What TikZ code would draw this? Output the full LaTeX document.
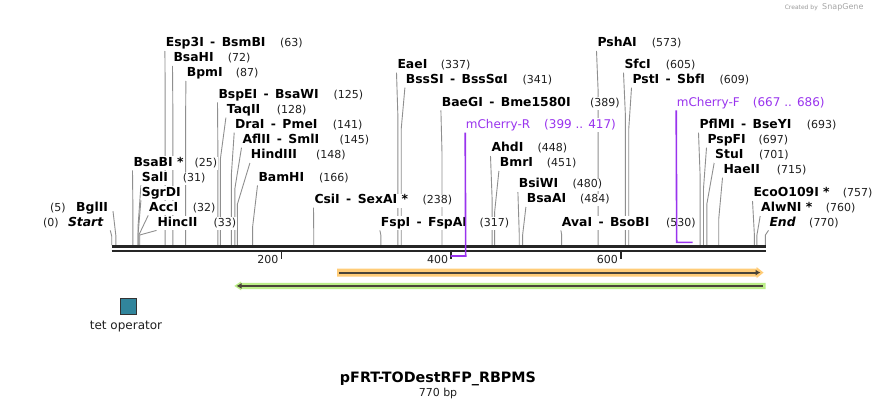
\documentclass[tikz,border=0pt]{standalone}
\usepackage{fontspec}
\setmainfont{DejaVu Sans}
\usetikzlibrary{arrows.meta}
\pgfdeclarelayer{bg}
\pgfsetlayers{bg,main}
\definecolor{sitegray}{HTML}{8F8F8F}
\definecolor{barcol}{HTML}{262626}
\definecolor{primercol}{HTML}{9933EE}
\definecolor{orangeband}{HTML}{FFCC77}
\definecolor{greenband}{HTML}{BBEE88}
\definecolor{featline}{HTML}{4A4438}
\definecolor{tetcol}{HTML}{31859C}
\tikzset{
  enz/.style={anchor=base west, inner xsep=0.8pt, inner ysep=1pt, fill=white,
    text height=9pt, text depth=3pt, font=\fontsize{12.4}{13}\selectfont\bfseries},
  num/.style={anchor=base west, inner xsep=0.8pt, inner ysep=1pt, fill=white,
    text height=8pt, text depth=2.5pt, font=\fontsize{11}{12}\selectfont, text=black!88},
  prim/.style={anchor=base west, inner xsep=0.5pt, inner ysep=1pt, fill=white,
    text height=9pt, text depth=3pt, font=\fontsize{12}{13}\selectfont, text=primercol},
  siteline/.style={draw=sitegray, line width=0.9pt},
  primline/.style={draw=primercol, line width=1.6pt},
  barline/.style={draw=barcol},
  tickmark/.style={draw=barcol, line width=1.8pt},
  ticklabel/.style={anchor=base east, inner sep=0pt, font=\fontsize{11}{12}\selectfont, text=black!88},
}
% id, pos, label x, label y, name, number x, number
\newcommand{\rsite}[7]{%
  \node[enz] (#1) at (#3-0.8,#4+4.5) {#5};
  \node[num] (#1n) at (#6-0.8,#4+4.5) {#7};
  \coordinate (#1s) at ({111.7+0.849*#2},245);
  \coordinate (#1k) at ({111.7+0.849*#2},{min(235,#4+50)});
  \begin{pgfonlayer}{bg}
    \draw[siteline] (#1.south west) -- (#1k) -- (#1s);
  \end{pgfonlayer}
}
\newcommand{\rsitenonum}[5]{%
  \node[enz] (#1) at (#3-0.8,#4+4.5) {#5};
  \coordinate (#1s) at ({111.7+0.849*#2},245);
  \coordinate (#1k) at ({111.7+0.849*#2},{min(235,#4+50)});
  \begin{pgfonlayer}{bg}
    \draw[siteline] (#1.south west) -- (#1k) -- (#1s);
  \end{pgfonlayer}
}
\begin{document}
\begin{tikzpicture}[x=1pt,y=-1pt]
\useasboundingbox (0,0) rectangle (878,409);
\begin{pgfonlayer}{bg}
\fill[white] (0,0) rectangle (878,409);
\end{pgfonlayer}

% watermark
\node[anchor=base east, inner sep=0pt, font=\fontsize{6}{7}\selectfont, text=black!40] (wm1) at (818,10) {Created by};
\node[anchor=base west, inner sep=0pt, font=\fontsize{8}{9}\selectfont, text=black!35] (wm2) at (822,10) {SnapGene};

% sequence bar
\draw[barline, line width=3pt] (111.7,246.5) coordinate (b0) -- (765.7,246.5) coordinate (b1);
\draw[barline, line width=2.5pt] (111.7,251.2) coordinate (c0) -- (765.7,251.2) coordinate (c1);

% ticks
\draw[tickmark] (281.5,252) -- (281.5,259);
\node[ticklabel] (t200) at (278.5,263.5) {200};
\draw[tickmark] (451.3,252) -- (451.3,259);
\node[ticklabel] (t400) at (448.3,263.5) {400};
\draw[tickmark] (621.1,252) -- (621.1,259);
\node[ticklabel] (t600) at (618.1,263.5) {600};

% left end labels
\node[enz, font=\fontsize{12.4}{13}\selectfont\bfseries\itshape] (start) at (67,226.2) {Start};
\node[num] (startn) at (42,226.2) {(0)};
\coordinate (starts) at (111.7,245);
\coordinate (startk) at (111.7,236);
\node[enz] (bglii) at (75.2,211.2) {BglII};
\node[num] (bgliin) at (49.2,211.2) {(5)};
\coordinate (bgliis) at (115.9,245);
\coordinate (bgliik) at (115.9,236);
\begin{pgfonlayer}{bg}
\draw[siteline] ([xshift=6pt]start.south east) -- (startk) -- (starts);
\draw[siteline] ([xshift=4pt,yshift=-3pt]bglii.east) -- (bgliik) -- (bgliis);
\end{pgfonlayer}

\rsite{bsabi}{25}{133.3}{161.7}{BsaBI *}{194.3}{(25)}
\rsite{sali}{31}{141.7}{176.7}{SalI}{182.7}{(31)}
\rsitenonum{sgrdi}{31}{141.7}{191.7}{SgrDI}
\rsite{acci}{32}{149}{206.7}{AccI}{192.7}{(32)}
\rsite{hincii}{33}{157.3}{221.7}{HincII}{213.3}{(33)}
\rsite{esp}{63}{165.7}{42.3}{Esp3I\ \,-\ \,BsmBI}{280}{(63)}
\rsite{bsahi}{72}{173.3}{57.3}{BsaHI}{227.7}{(72)}
\rsite{bpmi}{87}{186.7}{72.3}{BpmI}{235.7}{(87)}
\rsite{bspei}{125}{218.3}{93.7}{BspEI\ \,-\ \,BsaWI}{333.3}{(125)}
\rsite{taqii}{128}{226.7}{109}{TaqII}{276.7}{(128)}
\rsite{drai}{141}{235}{124}{DraI\ \,-\ \,PmeI}{332.7}{(141)}
\rsite{aflii}{145}{242.3}{139}{AflII\ \,-\ \,SmlI}{339.3}{(145)}
\rsite{hindiii}{148}{250.7}{154.3}{HindIII}{316}{(148)}
\rsite{bamhi}{166}{258.3}{176.7}{BamHI}{319}{(166)}
\rsite{csii}{238}{314.3}{199}{CsiI\ \,-\ \,SexAI *}{422.3}{(238)}
\rsite{fspi}{317}{380.7}{221.7}{FspI\ \,-\ \,FspAI}{479.3}{(317)}
\rsite{eaei}{337}{397.3}{64}{EaeI}{440.7}{(337)}
\rsite{bsssi}{341}{405.7}{79}{BssSI\ \,-\ \,BssSαI}{522.3}{(341)}
\rsite{baegi}{389}{441.7}{101.7}{BaeGI\ \,-\ \,Bme1580I}{590}{(389)}
\rsite{ahdi}{448}{491.3}{147.3}{AhdI}{537.3}{(448)}
\rsite{bmri}{451}{499.7}{162.3}{BmrI}{546.7}{(451)}
\rsite{bsiwi}{480}{518.7}{183.3}{BsiWI}{572.5}{(480)}
\rsite{bsaai}{484}{526.7}{198.3}{BsaAI}{580}{(484)}
\rsite{avai}{530}{561.7}{221.7}{AvaI\ \,-\ \,BsoBI}{666}{(530)}
\rsite{pshai}{573}{597.3}{42.3}{PshAI}{651.7}{(573)}
\rsite{sfci}{605}{624.3}{64}{SfcI}{665.7}{(605)}
\rsite{psti}{609}{632.3}{79}{PstI\ \,-\ \,SbfI}{719.3}{(609)}
\rsite{pflmi}{693}{699.3}{124}{PflMI\ \,-\ \,BseYI}{806.7}{(693)}
\rsite{pspfi}{697}{707.3}{139}{PspFI}{758.3}{(697)}
\rsite{stui}{701}{715}{154}{StuI}{759}{(701)}
\rsite{haeii}{715}{723.3}{169}{HaeII}{776.7}{(715)}
\rsite{ecoo}{757}{753.3}{192.3}{EcoO109I *}{842.7}{(757)}
\rsite{alwni}{760}{761}{207.3}{AlwNI *}{825.7}{(760)}
\node[enz, font=\fontsize{12.4}{13}\selectfont\bfseries\itshape] (endl) at (768.5,226.2) {End};
\node[num] (endln) at (808.2,226.2) {(770)};
\coordinate (endls) at (765.4,245);
\coordinate (endlk) at (765.4,235);
\begin{pgfonlayer}{bg}
\draw[siteline] (endl.south west) -- (endlk) -- (endls);
\end{pgfonlayer}

% primers
\node[prim] (mcr) at (465.2,128.5) {mCherry-R};
\node[prim] (mcrn) at (543.5,128.5) {(399 .. 417)};
\coordinate (mcr1) at (465.7,256);
\coordinate (mcr0) at (450.5,256);
\draw[primline] (mcr.south west) -- (mcr1) -- (mcr0);
\node[prim] (mcf) at (676.2,106.2) {mCherry-F};
\node[prim] (mcfn) at (752.2,106.2) {(667 .. 686)};
\coordinate (mcf0) at (676.7,242.3);
\coordinate (mcf1) at (692.5,242.3);
\draw[primline] (mcf.south west) -- (mcf0) -- (mcf1);

% features
\fill[orangeband] (337,268.5) -- (756.5,268.5) -- (756.5,267) -- (763.5,272.6) -- (756.5,278.2) -- (756.5,276.7) -- (337,276.7) -- cycle;
\draw[featline, line width=2pt, -{Latex[length=5pt,width=6pt]}] (339,272.6) -- (760.5,272.6);
\fill[greenband] (765.5,282.8) -- (241,282.8) -- (241,281.5) -- (234.3,285.9) -- (241,290.3) -- (241,289) -- (765.5,289) -- cycle;
\draw[featline, line width=2pt, -{Latex[length=5pt,width=6pt]}] (762.5,285.9) -- (236.5,285.9);

% tet operator
\node[draw=black!80, fill=tetcol, line width=1pt, minimum width=16pt, minimum height=16pt, inner sep=0pt] (tet) at (128.4,306.3) {};
\node[inner sep=0pt, font=\fontsize{12}{13}\selectfont, text=black!88] (tetl) at (126,327) {tet operator};

% title
\node[inner sep=0pt, font=\fontsize{14.3}{15}\selectfont\bfseries] (title) at (438,378.5) {pFRT-TODestRFP\_RBPMS};
\node[inner sep=0pt, font=\fontsize{11}{12}\selectfont, text=black!88] (len) at (438,393) {770 bp};
\end{tikzpicture}
\end{document}
